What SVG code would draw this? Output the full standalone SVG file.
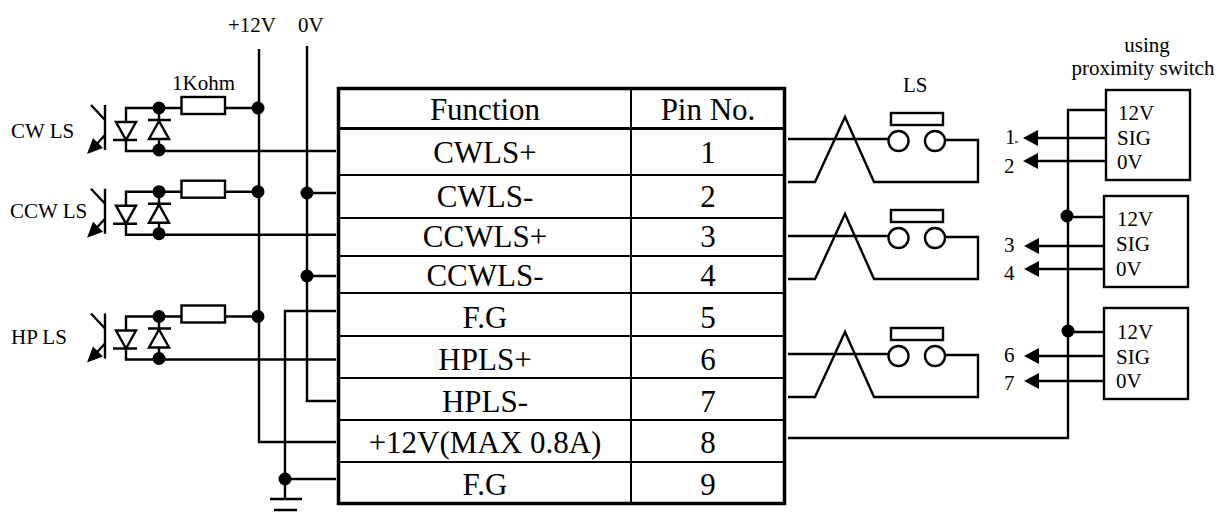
<svg xmlns="http://www.w3.org/2000/svg" xmlns:xlink="http://www.w3.org/1999/xlink" width="1218" height="520" viewBox="0 0 1218 520">
<style>
text{font-family:"Liberation Serif","Times New Roman",serif;fill:#000}
.s{font-size:21px}
.t{font-size:31px;text-anchor:middle}
.w{fill:none;stroke:#000;stroke-width:2.4;stroke-linejoin:miter}
.b{fill:#fff;stroke:#000;stroke-width:2.4}
.d{fill:#000}
</style>
<defs>
<g id="opto">
<path class="w" d="M105 105V150M91 105L105 120M105 135L94 147"/>
<path class="d" d="M87 154L93 138L103 148Z"/>
<path class="w" d="M159 108H126V122M126 140V151H159M116 122H136L126 140ZM113 140H137M148 120H171M159 108V120M159 139V151M159 121L149 139H169Z"/>
<circle class="d" cx="159" cy="108" r="6.5"/><circle class="d" cx="159" cy="150" r="6.5"/>
<path class="w" d="M159 108H258"/>
<rect class="b" x="181.500" y="97" width="43.500" height="17"/>
<circle class="d" cx="258" cy="108" r="6.500"/>
</g>
<g id="ls">
<path class="w" d="M788 139H888M945 140H978V182H874L845 117L815 182H788"/>
<circle class="w" cx="898.500" cy="141" r="10"/><circle class="w" cx="935" cy="141" r="10"/>
<rect class="w" x="891" y="113" width="52" height="12"/>
</g>
<path id="ah" class="d" d="M1023 0L1038 -8V8Z"/>
</defs>
<g id="connectors">
<path class="w" d="M259 49V442H336M307 46V401H336M336 151H159M336 234.700H159M336 359.500H159M307 193H336M307 276H336M336 311H285V498M285 479H336M270 499H302M274 510H297"/>
<path class="w" d="M1107 110H1068V438H788M1106 138H1030M1106 161H1030M1068 217H1104M1104 246H1030M1104 269H1030M1068 332H1104M1104 356H1030M1104 381H1030"/>
<circle class="d" cx="307" cy="193" r="6.500"/>
<circle class="d" cx="307" cy="276" r="6.500"/>
<circle class="d" cx="285" cy="479" r="6.500"/>
<circle class="d" cx="1067" cy="216" r="6.500"/>
<circle class="d" cx="1068" cy="331" r="6.500"/>
<use xlink:href="#ah" href="#ah" y="138"/><use xlink:href="#ah" href="#ah" y="161"/><use xlink:href="#ah" href="#ah" x="1" y="246"/><use xlink:href="#ah" href="#ah" x="1" y="269"/><use xlink:href="#ah" href="#ah" x="1" y="356"/><use xlink:href="#ah" href="#ah" x="1" y="381"/>
</g>
<g id="opto-cw"><use xlink:href="#opto" href="#opto"/><text class="s" x="11" y="138">CW LS</text></g>
<g id="opto-ccw"><use xlink:href="#opto" href="#opto" y="83.700"/><text class="s" x="10" y="218">CCW LS</text></g>
<g id="opto-hp"><use xlink:href="#opto" href="#opto" y="208.500"/><text class="s" x="11" y="344">HP LS</text></g>
<g id="resistor-label"><text class="s" x="172" y="90">1Kohm</text></g>
<g id="rails"><text class="s" x="228" y="32">+12V</text><text class="s" x="298" y="32">0V</text></g>
<g id="table">
<rect x="338.500" y="88.500" width="446" height="415" fill="#fff" stroke="#000" stroke-width="3.500"/>
<path fill="none" stroke="#000" stroke-width="2" d="M631 88V503M338 175H785M338 218H785M338 256H785M338 293H785M338 336H785M338 378H785M338 420H785M338 462H785"/>
<path fill="none" stroke="#000" stroke-width="3.200" d="M338 128.500H785"/>
<text class="t" x="485" y="120">Function</text><text class="t" x="708" y="120">Pin No.</text>
<text class="t" x="485" y="163">CWLS+</text><text class="t" x="708" y="163">1</text>
<text class="t" x="485" y="207">CWLS-</text><text class="t" x="708" y="207">2</text>
<text class="t" x="485" y="247">CCWLS+</text><text class="t" x="708" y="247">3</text>
<text class="t" x="485" y="286">CCWLS-</text><text class="t" x="708" y="286">4</text>
<text class="t" x="485" y="328">F.G</text><text class="t" x="708" y="328">5</text>
<text class="t" x="485" y="370">HPLS+</text><text class="t" x="708" y="370">6</text>
<text class="t" x="485" y="412">HPLS-</text><text class="t" x="708" y="412">7</text>
<text class="t" x="485" y="453">+12V(MAX 0.8A)</text><text class="t" x="708" y="453">8</text>
<text class="t" x="485" y="495">F.G</text><text class="t" x="708" y="495">9</text>
</g>
<g id="ls-1"><use xlink:href="#ls" href="#ls"/></g>
<g id="ls-2"><use xlink:href="#ls" href="#ls" y="97"/></g>
<g id="ls-3"><use xlink:href="#ls" href="#ls" y="215"/></g>
<text class="s" x="903" y="92">LS</text>
<text class="s" x="1147" y="52" text-anchor="middle">using</text>
<text class="s" x="1143" y="75" text-anchor="middle">proximity switch</text>
<g id="prox-1"><rect class="w" x="1106" y="90" width="84" height="90"/><text class="s" x="1118" y="120">12V</text><text class="s" x="1117" y="145">SIG</text><text class="s" x="1117" y="169">0V</text></g>
<g id="prox-2"><rect class="w" x="1104" y="196" width="84" height="91"/><text class="s" x="1117" y="226">12V</text><text class="s" x="1116" y="251">SIG</text><text class="s" x="1116" y="276">0V</text></g>
<g id="prox-3"><rect class="w" x="1104" y="308" width="84" height="91"/><text class="s" x="1117" y="339">12V</text><text class="s" x="1116" y="364">SIG</text><text class="s" x="1116" y="388">0V</text></g>
<g id="pins">
<text class="s" x="1005" y="144">1</text><path d="M1015 142H1018" stroke="#000" stroke-width="1.200"/>
<text class="s" x="1004" y="173">2</text>
<text class="s" x="1004" y="252">3</text>
<text class="s" x="1004" y="280">4</text>
<text class="s" x="1004" y="362">6</text>
<text class="s" x="1004" y="390">7</text>
</g>
</svg>
